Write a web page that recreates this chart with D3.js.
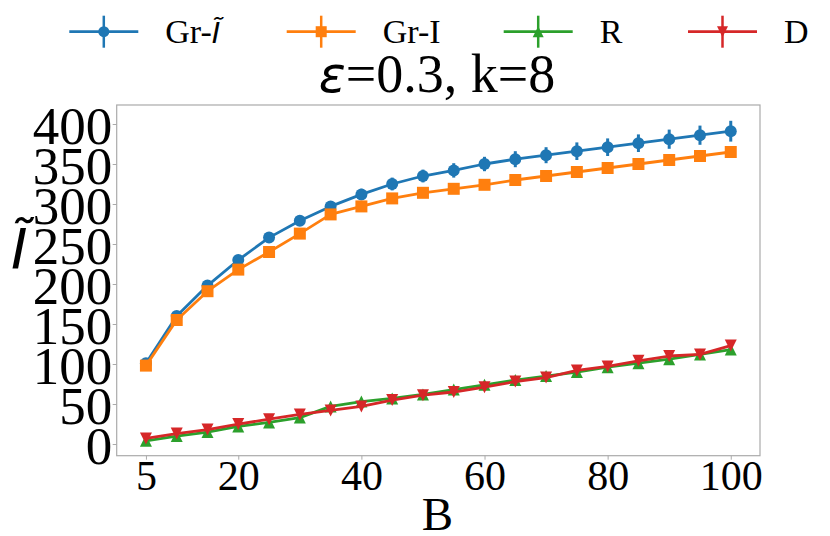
<!DOCTYPE html>
<html>
<head>
<meta charset="utf-8">
<script src="https://cdn.jsdelivr.net/npm/d3@7"></script>
<style>
  body { margin: 0; background: #fff; }
  svg { display: block; }
</style>
</head>
<body>
<div id="chart-area"></div>
<script>
// ---------- data ----------
const budgets = [5, 10, 15, 20, 25, 30, 35, 40, 45, 50, 55, 60, 65, 70, 75, 80, 85, 90, 95, 100];
const grTilde = [101, 160, 198, 230, 258, 279, 297, 312, 325, 335, 342, 350, 356, 361, 366, 371, 376, 381, 386, 391];
const grTildeErr = [2, 3, 3, 4, 4, 5, 6, 7, 8, 8, 9, 9, 10, 10, 11, 11, 11, 12, 12, 13];
const grI = [98, 155, 191, 218, 240, 263, 287, 297, 307, 314, 319, 324, 330, 335, 340, 345, 350, 355, 360, 365];
const grIErr = [1, 1, 1, 1, 1, 1, 1, 1, 1, 1, 1, 1, 1, 1, 1, 1, 1, 1, 1, 1];
const rVals = [4, 10, 15, 22, 27, 33, 47, 53, 57, 62, 68, 74, 80, 85, 90, 96, 101, 106, 112, 118];
const rErr = [1, 1, 2, 2, 2, 2, 2, 3, 3, 3, 3, 3, 3, 3, 3, 3, 3, 3, 3, 3];
const dVals = [7, 13, 18, 25, 31, 37, 42, 47, 55, 61, 65, 71, 78, 83, 92, 97, 104, 110, 112, 123];
const dErr = [1, 2, 2, 2, 2, 3, 4, 3, 3, 3, 4, 4, 3, 3, 3, 3, 3, 3, 3, 3];

const xTicks = [5, 20, 40, 60, 80, 100];
const yTicks = [0, 50, 100, 150, 200, 250, 300, 350, 400];

const series = [
  { name: 'Gr-', tilde: true, values: grTilde, err: grTildeErr, color: '#1f77b4', marker: 'circle' },
  { name: 'Gr-I', values: grI, err: grIErr, color: '#ff7f0e', marker: 'square' },
  { name: 'R', values: rVals, err: rErr, color: '#2ca02c', marker: 'up' },
  { name: 'D', values: dVals, err: dErr, color: '#d62728', marker: 'down' }
];

// ---------- canvas ----------
const W = 830, H = 536;
const plot = { left: 116.7, right: 760, top: 105, bottom: 455.7 };

const svg = d3.select('#chart-area').append('svg')
  .attr('width', W)
  .attr('height', H);

const serif = '"Liberation Serif", "Times New Roman", serif';
const mathFont = '"DejaVu Sans", sans-serif';

// scales (matplotlib-like 5% margins)
const x = d3.scaleLinear().domain([0.25, 104.75]).range([plot.left, plot.right]);
const y = d3.scaleLinear().domain([-14.6, 423.75]).range([plot.bottom, plot.top]);

// frame
svg.append('rect')
  .attr('x', plot.left).attr('y', plot.top)
  .attr('width', plot.right - plot.left)
  .attr('height', plot.bottom - plot.top)
  .attr('fill', 'none')
  .attr('stroke', '#aaaaaa')
  .attr('stroke-width', 1.2);

// x axis
const xAxis = d3.axisBottom(x).tickValues(xTicks).tickSize(4).tickPadding(6).tickFormat(d3.format('d'));
const gx = svg.append('g')
  .attr('transform', 'translate(0,' + plot.bottom + ')')
  .call(xAxis);
gx.select('.domain').remove();
gx.selectAll('.tick line').attr('stroke', '#aaaaaa');
gx.selectAll('.tick text')
  .attr('font-family', serif)
  .attr('font-size', 42)
  .attr('fill', '#000')
  .attr('dy', null)
  .attr('y', 34.5);

// y axis
const yAxis = d3.axisLeft(y).tickValues(yTicks).tickSize(4).tickPadding(4).tickFormat(d3.format('d'));
const gy = svg.append('g')
  .attr('transform', 'translate(' + plot.left + ',0)')
  .call(yAxis);
gy.select('.domain').remove();
gy.selectAll('.tick line').attr('stroke', '#aaaaaa');
gy.selectAll('.tick text')
  .attr('font-family', serif)
  .attr('font-size', 53)
  .attr('fill', '#000')
  .attr('dy', null)
  .attr('y', 19.5)
  .attr('x', -4.5);

// axis labels
svg.append('text')
  .attr('x', (plot.left + plot.right) / 2 - 1)
  .attr('y', 530)
  .attr('text-anchor', 'middle')
  .attr('font-family', serif)
  .attr('font-size', 47)
  .text('B');

svg.append('text')
  .attr('x', 11)
  .attr('y', 268)
  .attr('font-family', mathFont)
  .attr('font-style', 'italic')
  .attr('font-size', 56)
  .text('Ĩ');

// title
const title = svg.append('text')
  .attr('x', 437)
  .attr('y', 92)
  .attr('text-anchor', 'middle')
  .attr('font-family', serif)
  .attr('font-size', 54);
title.append('tspan')
  .attr('font-family', mathFont)
  .attr('font-style', 'italic')
  .attr('font-size', 50)
  .text('ε');
title.append('tspan').text('=0.3, k=8');

// ---------- marks ----------
function markerPath(type, s) {
  const h = s / 2;
  if (type === 'square') return `M${-h},${-h}H${h}V${h}H${-h}Z`;
  if (type === 'up') return `M0,${-h}L${h},${h}L${-h},${h}Z`;
  if (type === 'down') return `M0,${h}L${h},${-h}L${-h},${-h}Z`;
  return d3.symbol(d3.symbolCircle, Math.PI * h * h)();
}

const line = d3.line()
  .x(d => x(d.b))
  .y(d => y(d.v));

series.forEach(s => {
  const pts = budgets.map((b, i) => ({ b: b, v: s.values[i], e: s.err[i] }));
  const g = svg.append('g');

  // error bars
  g.selectAll('line.err')
    .data(pts)
    .enter()
    .append('line')
      .attr('x1', d => x(d.b))
      .attr('x2', d => x(d.b))
      .attr('y1', d => y(d.v - d.e))
      .attr('y2', d => y(d.v + d.e))
      .attr('stroke', s.color)
      .attr('stroke-width', 3);

  g.append('path')
    .datum(pts)
    .attr('d', line)
    .attr('fill', 'none')
    .attr('stroke', s.color)
    .attr('stroke-width', 2.8)
    .attr('stroke-linejoin', 'round');

  g.selectAll('path.mk')
    .data(pts)
    .enter()
    .append('path')
      .attr('class', 'mk')
      .attr('transform', d => 'translate(' + x(d.b) + ',' + y(d.v) + ')')
      .attr('d', markerPath(s.marker, 12))
      .attr('fill', s.color);
});

// ---------- legend ----------
const legendX = [69.3, 286.7, 503.7, 688];
const legendY = 31.7;
series.forEach((s, i) => {
  const lg = svg.append('g').attr('transform', 'translate(' + legendX[i] + ',' + legendY + ')');
  lg.append('line')
    .attr('x1', 0).attr('x2', 69)
    .attr('stroke', s.color).attr('stroke-width', 2.8);
  lg.append('line')
    .attr('x1', 34.5).attr('x2', 34.5)
    .attr('y1', -16).attr('y2', 16)
    .attr('stroke', s.color).attr('stroke-width', 2.5);
  lg.append('path')
    .attr('transform', 'translate(34.5,0)')
    .attr('d', markerPath(s.marker, 11))
    .attr('fill', s.color);
  const t = lg.append('text')
    .attr('x', 96)
    .attr('y', 11.6)
    .attr('font-family', serif)
    .attr('font-size', 34)
    .text(s.name);
  if (s.tilde) {
    t.append('tspan')
      .attr('font-family', mathFont)
      .attr('font-style', 'italic')
      .attr('font-size', 29)
      .text('Ĩ');
  }
});
</script>
</body>
</html>
